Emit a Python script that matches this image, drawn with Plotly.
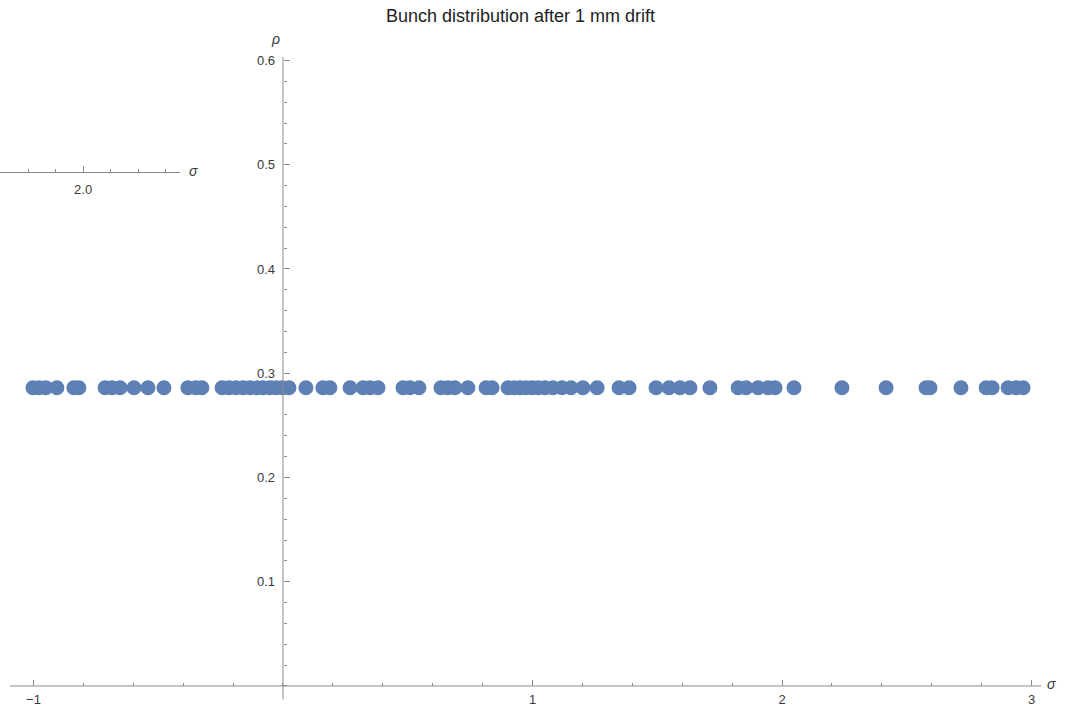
import plotly.graph_objects as go

# data: sigma positions of the bunch particles, all at the same rho
sigma = [-1.002, -0.978, -0.950, -0.906, -0.838, -0.818,
         -0.713, -0.685, -0.653, -0.597, -0.541, -0.477,
         -0.381, -0.349, -0.325,
         -0.244, -0.216, -0.188, -0.160, -0.132, -0.104, -0.080, -0.052, -0.028, -0.004, 0.024,
         0.092, 0.160, 0.188, 0.269, 0.321, 0.349, 0.381,
         0.481, 0.509, 0.545, 0.633, 0.661, 0.689, 0.741, 0.814, 0.838,
         0.902, 0.926, 0.950, 0.974, 0.998, 1.022, 1.050, 1.082, 1.118, 1.154, 1.202, 1.259,
         1.347, 1.387, 1.495, 1.547, 1.591, 1.631, 1.711,
         1.824, 1.856, 1.904, 1.944, 1.972, 2.048,
         2.240, 2.417, 2.577, 2.593, 2.717, 2.818, 2.842, 2.906, 2.938, 2.966]
rho_value = 0.286
rho = [rho_value] * len(sigma)

x_tickvals = [-1, 1, 2, 3]
x_ticktext = ["\u22121", "1", "2", "3"]
y_tickvals = [0.1, 0.2, 0.3, 0.4, 0.5, 0.6]
y_ticktext = ["0.1", "0.2", "0.3", "0.4", "0.5", "0.6"]
title_text = "Bunch distribution after 1 mm drift"

W, H = 1067, 711
axis_color = "#8a8a8a"
label_color = "#3a3a3a"
font_family = "Liberation Sans, Arial, sans-serif"

x_minor = [round(-1.0 + 0.2 * i, 2) for i in range(21)]
y_minor = [round(0.02 * i, 2) for i in range(31)]
x2_minor = [round(1.85 + 0.05 * i, 2) for i in range(7)]

fig = go.Figure()
fig.add_trace(go.Scatter(
    x=sigma, y=rho, mode="markers",
    marker=dict(size=15, color="#5E81B5", line=dict(width=0)),
    hoverinfo="x+y", showlegend=False))

# stray inset axis fragment (top-left)
fig.add_trace(go.Scatter(x=[None], y=[None], xaxis="x2", yaxis="y", showlegend=False))

fig.update_layout(
    width=W, height=H,
    margin=dict(l=0, r=0, t=0, b=0),
    paper_bgcolor="white", plot_bgcolor="rgba(0,0,0,0)",
    font=dict(family=font_family, size=13, color=label_color),
    xaxis=dict(
        range=[-1.134, 3.142], domain=[0, 1],
        anchor="free", position=25 / H,
        showgrid=False, zeroline=False, showline=False,
        tickmode="array", tickvals=x_tickvals, ticktext=x_ticktext,
        ticks="inside", ticklen=6, tickwidth=1, tickcolor=axis_color,
        ticklabelstandoff=4,
        minor=dict(ticks="inside", ticklen=3, tickcolor=axis_color, tickmode="array",
                   tickvals=x_minor, showgrid=False),
        tickfont=dict(size=13, color=label_color),
    ),
    yaxis=dict(
        range=[-0.024, 0.658], domain=[0, 1],
        anchor="free", position=283 / W,
        showgrid=False, zeroline=False, showline=False,
        tickmode="array", tickvals=y_tickvals, ticktext=y_ticktext,
        ticks="inside", ticklen=6, tickwidth=1, tickcolor=axis_color,
        ticklabelstandoff=8,
        minor=dict(ticks="inside", ticklen=3, tickcolor=axis_color, tickmode="array",
                   tickvals=y_minor, showgrid=False),
        tickfont=dict(size=13, color=label_color),
    ),
    xaxis2=dict(
        range=[1.849, 2.176], domain=[0, 180 / W],
        anchor="free", position=(H - 172) / H,
        showgrid=False, zeroline=False,
        showline=True, linecolor=axis_color, linewidth=1,
        tickmode="array", tickvals=[2.0], ticktext=["2.0"],
        ticks="inside", ticklen=6, tickcolor=axis_color,
        ticklabelstandoff=5,
        minor=dict(ticks="inside", ticklen=3, tickcolor=axis_color, tickmode="array",
                   tickvals=x2_minor),
        tickfont=dict(size=13, color=label_color),
    ),
    showlegend=False,
)

# main axis lines (crossing at origin)
fig.add_shape(type="line", xref="x", yref="y", x0=-1.094, x1=3.038, y0=0, y1=0,
              line=dict(color=axis_color, width=1))
fig.add_shape(type="line", xref="x", yref="y", x0=0, x1=0, y0=-0.013, y1=0.603,
              line=dict(color=axis_color, width=1))

# axis labels and title
fig.add_annotation(x=3.038, y=0, xref="x", yref="y", text="<i>\u03c3</i>", showarrow=False,
                   xanchor="left", yanchor="middle", xshift=4, yshift=2, font=dict(size=14, color=label_color))
fig.add_annotation(x=0, y=0.603, xref="x", yref="y", text="<i>\u03c1</i>", showarrow=False,
                   xanchor="center", yanchor="bottom", xshift=-7, yshift=8, font=dict(size=14, color=label_color))
fig.add_annotation(x=2.176, y=(H - 172) / H, xref="x2", yref="paper", text="<i>\u03c3</i>", showarrow=False,
                   xanchor="left", yanchor="middle", xshift=7, yshift=1, font=dict(size=14, color=label_color))
fig.add_annotation(x=520 / W, y=1, xref="paper", yref="paper", text=title_text, showarrow=False,
                   xanchor="center", yanchor="top", yshift=-4, font=dict(size=18, color="#222222"))

fig.write_html("out.html")
